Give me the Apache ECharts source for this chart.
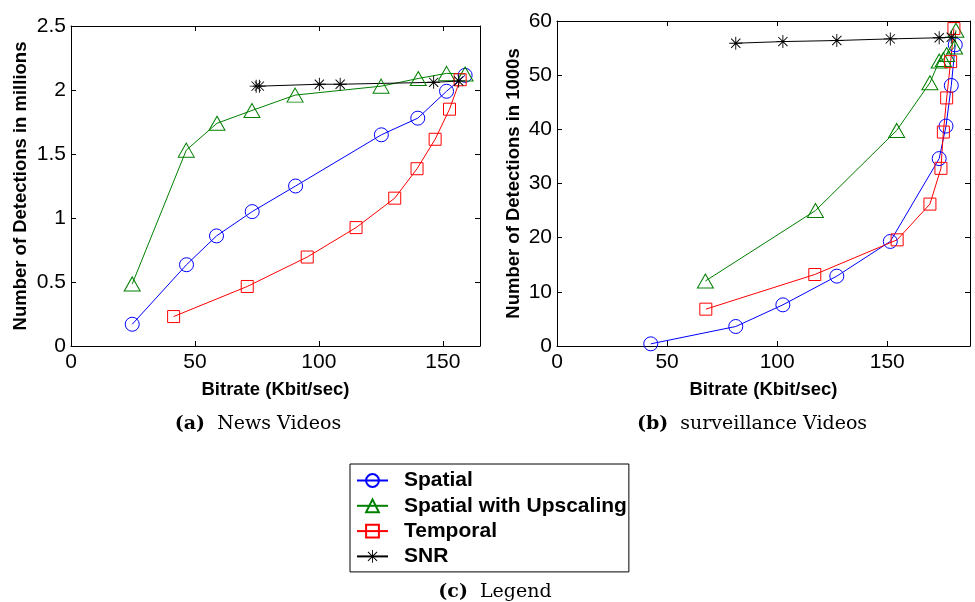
<!DOCTYPE html>
<html>
<head>
<meta charset="utf-8">
<script src="https://cdn.jsdelivr.net/npm/echarts@6/dist/echarts.min.js"></script>
<style>
  html, body { margin: 0; padding: 0; background: #fff; }
  #chart { width: 975px; height: 602px; }
</style>
</head>
<body>
<div id="chart"></div>
<script>
// series names (legend)
const seriesNames = ['Spatial', 'Spatial with Upscaling', 'Temporal', 'SNR']

// (a) News Videos — bitrate (Kbit/sec) and detections (millions)
const newsSpatialX = [24.7, 46.6, 58.7, 73.1, 90.6, 125.2, 139.9, 151.5, 159]
const newsSpatialY = [0.17, 0.635, 0.86, 1.05, 1.25, 1.65, 1.78, 1.99, 2.115]
const newsUpscaleX = [24.7, 46.5, 58.9, 73, 90.4, 125.1, 140.1, 151.5, 159]
const newsUpscaleY = [0.485, 1.53, 1.74, 1.84, 1.96, 2.03, 2.09, 2.13, 2.125]
const newsTemporalX = [41.4, 71.1, 95.3, 115, 130.6, 139.6, 146.9, 152.7, 157]
const newsTemporalY = [0.23, 0.465, 0.695, 0.925, 1.155, 1.385, 1.615, 1.85, 2.08]
const newsSnrX = [74.7, 76, 100.2, 108.6, 146.3, 156.4]
const newsSnrY = [2.03, 2.03, 2.045, 2.045, 2.06, 2.07]

// (b) surveillance Videos — bitrate (Kbit/sec) and detections (1000s)
const survSpatialX = [42.6, 81.2, 102.6, 127.1, 151.4, 173.6, 176.7, 179.1, 180.9]
const survSpatialY = [0.4, 3.6, 7.6, 12.9, 19.3, 34.6, 40.6, 48.1, 55.6]
const survUpscaleX = [67.4, 117.4, 154.3, 169.4, 173.6, 175.5, 177, 180.6, 181.2]
const survUpscaleY = [12.0, 25.0, 39.8, 48.6, 52.6, 52.9, 53.8, 55.2, 58.3]
const survTemporalX = [67.6, 117.1, 154.5, 169.4, 174.4, 175.5, 177, 178.8, 180.3]
const survTemporalY = [6.8, 13.2, 19.6, 26.2, 32.8, 39.5, 45.8, 52.5, 58.6]
const survSnrX = [81.2, 102.6, 127.1, 151.4, 173.6, 179.1]
const survSnrY = [55.9, 56.2, 56.4, 56.7, 56.9, 57.0]

// axis ranges / ticks
const newsX = { min: 0, max: 165, interval: 50 }
const newsY = { min: 0, max: 2.5, interval: 0.5 }
const survX = { min: 0, max: 187.6, interval: 50 }
const survY = { min: 0, max: 60, interval: 10 }

const zip = (xs, ys) => xs.map((x, i) => [x, ys[i]])

// MATLAB-like '*' marker (plus + cross)
const starPath = 'path://M0 9.3L20 9.3L20 10.7L0 10.7Z M9.3 0L10.7 0L10.7 20L9.3 20Z ' +
  'M2.4 3.4L3.4 2.4L17.6 16.6L16.6 17.6Z M16.6 2.4L17.6 3.4L3.4 17.6L2.4 16.6Z'

const styles = [
  { color: '#0000ff', symbol: 'circle', size: 14, hollow: true },
  { color: '#008000', symbol: 'triangle', size: [16, 14], hollow: true },
  { color: '#ff0000', symbol: 'rect', size: 12, hollow: true },
  { color: '#000000', symbol: starPath, size: 13, hollow: false }
]

const FONT = "'Liberation Sans', Arial, Helvetica, sans-serif"

const makeSeries = (idx, data, gridIdx) => {
  const s = styles[idx]
  return {
    name: seriesNames[idx],
    type: 'line',
    xAxisIndex: gridIdx * 2,
    yAxisIndex: gridIdx * 2,
    data: data,
    symbol: s.symbol,
    symbolSize: s.size,
    showAllSymbol: true,
    lineStyle: { color: s.color, width: 1 },
    itemStyle: s.hollow
      ? { color: 'rgba(0,0,0,0)', borderColor: s.color, borderWidth: 1 }
      : { color: s.color, borderWidth: 0 },
    emphasis: { disabled: true }
  }
}

const makeX = (range, gridIdx, pos) => ({
  type: 'value',
  gridIndex: gridIdx,
  position: pos,
  min: range.min,
  max: range.max,
  interval: range.interval,
  axisLine: { show: true, onZero: false, lineStyle: { color: '#000', width: 1 } },
  axisTick: { show: true, inside: true, length: 5, lineStyle: { color: '#000' } },
  axisLabel: {
    show: pos === 'bottom',
    showMaxLabel: false,
    color: '#000',
    fontFamily: FONT,
    fontSize: 21,
    margin: 6
  },
  splitLine: { show: false },
  name: pos === 'bottom' ? 'Bitrate (Kbit/sec)' : '',
  nameLocation: 'middle',
  nameGap: 34,
  nameTextStyle: { color: '#000', fontFamily: FONT, fontWeight: 'bold', fontSize: 18.5 }
})

const makeY = (range, gridIdx, pos, name, gap) => ({
  type: 'value',
  gridIndex: gridIdx,
  position: pos,
  min: range.min,
  max: range.max,
  interval: range.interval,
  axisLine: { show: true, onZero: false, lineStyle: { color: '#000', width: 1 } },
  axisTick: { show: true, inside: true, length: 5, lineStyle: { color: '#000' } },
  axisLabel: {
    show: pos === 'left',
    color: '#000',
    fontFamily: FONT,
    fontSize: 21,
    margin: 5
  },
  splitLine: { show: false },
  name: pos === 'left' ? name : '',
  nameLocation: 'middle',
  nameGap: gap,
  nameTextStyle: { color: '#000', fontFamily: FONT, fontWeight: 'bold', fontSize: 18.5 }
})

const captionFont = '19px "DejaVu Serif", "Liberation Serif", serif'
const caption = (x, y, label, text) => ({
  type: 'text',
  x: x,
  y: y,
  style: {
    text: '{b|' + label + '}  ' + text,
    font: captionFont,
    fill: '#000',
    align: 'center',
    verticalAlign: 'middle',
    rich: { b: { font: 'bold 19px "DejaVu Serif", "Liberation Serif", serif', fill: '#000' } }
  }
})

const myChart = echarts.init(document.getElementById('chart'), null, { renderer: 'canvas' })

const option = {
  animation: false,
  backgroundColor: '#fff',
  grid: [
    { left: 71, top: 26, width: 409, height: 320, containLabel: false },
    { left: 557, top: 21, width: 413, height: 325, containLabel: false }
  ],
  xAxis: [
    makeX(newsX, 0, 'bottom'),
    makeX(newsX, 0, 'top'),
    makeX(survX, 1, 'bottom'),
    makeX(survX, 1, 'top')
  ],
  yAxis: [
    makeY(newsY, 0, 'left', 'Number of Detections in millions', 41),
    makeY(newsY, 0, 'right', '', 0),
    makeY(survY, 1, 'left', 'Number of Detections in 1000s', 34),
    makeY(survY, 1, 'right', '', 0)
  ],
  legend: {
    data: seriesNames,
    orient: 'vertical',
    left: 350,
    top: 464,
    padding: [6, 2, 5, 6],
    itemWidth: 31,
    itemHeight: 16,
    itemGap: 4.3,
    borderColor: '#000',
    borderWidth: 1,
    borderRadius: 0,
    selectedMode: false,
    textStyle: {
      color: '#000',
      fontFamily: FONT,
      fontWeight: 'bold',
      fontSize: 21,
      padding: [0, 0, 0, 11]
    }
  },
  graphic: [
    caption(258, 424, '(a)', 'News Videos'),
    caption(752, 424, '(b)', 'surveillance Videos'),
    caption(495, 592, '(c)', 'Legend')
  ],
  series: [
    makeSeries(0, zip(newsSpatialX, newsSpatialY), 0),
    makeSeries(1, zip(newsUpscaleX, newsUpscaleY), 0),
    makeSeries(2, zip(newsTemporalX, newsTemporalY), 0),
    makeSeries(3, zip(newsSnrX, newsSnrY), 0),
    makeSeries(0, zip(survSpatialX, survSpatialY), 1),
    makeSeries(1, zip(survUpscaleX, survUpscaleY), 1),
    makeSeries(2, zip(survTemporalX, survTemporalY), 1),
    makeSeries(3, zip(survSnrX, survSnrY), 1)
  ]
}

myChart.setOption(option)
</script>
</body>
</html>
